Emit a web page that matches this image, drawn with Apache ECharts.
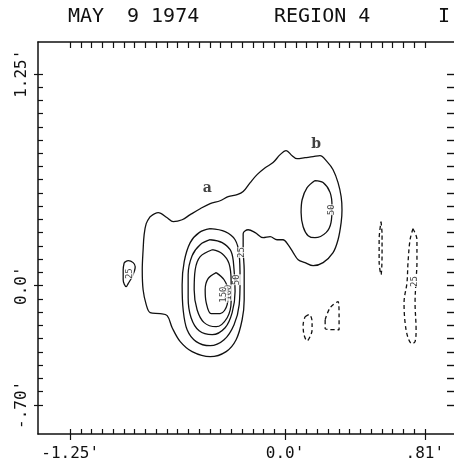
<!DOCTYPE html>
<html><head><meta charset="utf-8">
<script src="https://cdn.jsdelivr.net/npm/echarts@6/dist/echarts.min.js"></script>
<style>html,body{margin:0;padding:0;background:#fff}#c{width:454px;height:467px}</style>
</head><body><div id="c"></div><script>
// ---- axes / ticks (arc-minutes) ----
const xTicks = [-1.25,-1.1875,-1.125,-1.0625,-1,-0.9375,-0.875,-0.8125,-0.75,-0.6875,-0.625,-0.5625,-0.5,-0.4375,-0.375,-0.3125,-0.25,-0.1875,-0.125,-0.0625,0,0.0625,0.125,0.1875,0.25,0.3125,0.375,0.4375,0.5,0.5625,0.625,0.6875,0.75,0.8125];
const xMajor = [-1.25, 0, 0.8125];
const xMajorLabels = ["-1.25'", "0.0'", ".81'"];
const yTicks = [-0.703125,-0.625,-0.546875,-0.46875,-0.390625,-0.3125,-0.234375,-0.15625,-0.078125,0,0.078125,0.15625,0.234375,0.3125,0.390625,0.46875,0.546875,0.625,0.703125,0.78125,0.859375,0.9375,1.015625,1.09375,1.171875,1.25];
const yMajor = [-0.703125, 0, 1.25];
const yMajorLabels = ["-.70'", "0.0'", "1.25'"];

// ---- contours (x, y in arc-minutes) ----
const outer25 = [[-0.785,0.407],[-0.738,0.431],[-0.686,0.401],[-0.651,0.378],[-0.599,0.389],[-0.552,0.419],[-0.494,0.454],[-0.436,0.484],[-0.378,0.501],[-0.331,0.525],[-0.279,0.537],[-0.244,0.555],[-0.203,0.608],[-0.163,0.655],[-0.116,0.696],[-0.070,0.726],[-0.029,0.773],[0.006,0.797],[0.041,0.767],[0.070,0.749],[0.116,0.755],[0.163,0.761],[0.203,0.767],[0.244,0.732],[0.279,0.684],[0.308,0.608],[0.326,0.525],[0.331,0.448],[0.326,0.372],[0.308,0.271],[0.279,0.195],[0.221,0.136],[0.163,0.118],[0.116,0.136],[0.076,0.153],[0.047,0.195],[0.017,0.242],[-0.012,0.271],[-0.047,0.271],[-0.087,0.289],[-0.128,0.283],[-0.174,0.313],[-0.215,0.330],[-0.244,0.307],[-0.244,0.212],[-0.238,0.094],[-0.238,-0.083],[-0.250,-0.201],[-0.285,-0.319],[-0.343,-0.389],[-0.436,-0.419],[-0.541,-0.389],[-0.610,-0.330],[-0.657,-0.248],[-0.686,-0.177],[-0.727,-0.165],[-0.785,-0.159],[-0.808,-0.112],[-0.826,-0.024],[-0.831,0.094],[-0.826,0.212],[-0.820,0.301],[-0.808,0.366],[-0.785,0.407]];
const ringA50 = [[-0.436,0.336],[-0.349,0.319],[-0.291,0.271],[-0.267,0.183],[-0.262,0.035],[-0.267,-0.112],[-0.297,-0.230],[-0.355,-0.319],[-0.436,-0.354],[-0.517,-0.330],[-0.570,-0.260],[-0.593,-0.142],[-0.599,0.006],[-0.587,0.142],[-0.552,0.254],[-0.500,0.313],[-0.436,0.336]];
const ringA100 = [[-0.436,0.271],[-0.366,0.254],[-0.314,0.201],[-0.297,0.094],[-0.291,-0.035],[-0.308,-0.159],[-0.349,-0.248],[-0.424,-0.289],[-0.500,-0.266],[-0.547,-0.189],[-0.564,-0.071],[-0.564,0.065],[-0.541,0.177],[-0.494,0.242],[-0.436,0.271]];
const ringA150 = [[-0.424,0.212],[-0.366,0.189],[-0.326,0.130],[-0.314,0.024],[-0.314,-0.094],[-0.337,-0.189],[-0.401,-0.242],[-0.471,-0.218],[-0.512,-0.142],[-0.529,-0.024],[-0.523,0.094],[-0.494,0.171],[-0.424,0.212]];
const ringA200 = [[-0.401,0.077],[-0.355,0.035],[-0.331,-0.035],[-0.337,-0.112],[-0.378,-0.165],[-0.430,-0.165],[-0.459,-0.100],[-0.465,-0.024],[-0.448,0.041],[-0.401,0.077]];
const ringB50 = [[0.174,0.620],[0.221,0.608],[0.262,0.549],[0.273,0.466],[0.267,0.372],[0.238,0.313],[0.174,0.283],[0.134,0.295],[0.105,0.348],[0.093,0.431],[0.099,0.507],[0.128,0.578],[0.174,0.620]];
const loopW25 = [[-0.936,0.136],[-0.913,0.148],[-0.884,0.136],[-0.872,0.112],[-0.890,0.053],[-0.913,0.012],[-0.924,-0.006],[-0.942,0.035],[-0.942,0.094],[-0.936,0.136]];
const neg1 = [[0.558,0.378],[0.564,0.301],[0.564,0.183],[0.558,0.065],[0.547,0.142],[0.547,0.271],[0.558,0.378]];
const neg2 = [[0.744,0.336],[0.767,0.271],[0.767,0.136],[0.762,0.035],[0.756,-0.100],[0.762,-0.260],[0.756,-0.330],[0.738,-0.342],[0.715,-0.307],[0.698,-0.218],[0.692,-0.100],[0.709,0.018],[0.715,0.136],[0.727,0.271],[0.744,0.336]];
const neg3 = [[0.116,-0.183],[0.140,-0.171],[0.157,-0.212],[0.157,-0.260],[0.145,-0.301],[0.128,-0.325],[0.110,-0.289],[0.105,-0.230],[0.116,-0.183]];
const neg4 = [[0.233,-0.201],[0.262,-0.130],[0.308,-0.094],[0.314,-0.183],[0.314,-0.260],[0.233,-0.254],[0.233,-0.201]];

// ---- contour level labels ----
const levelText = ['25','25','50','100','150','50','25'];
const levelX = [-0.907,-0.250,-0.279,-0.326,-0.360,0.273,0.756];
const levelY = [0.071,0.195,0.035,-0.041,-0.053,0.448,0.024];
// ---- feature labels ----
const featText = ['a','b'];
const featX = [-0.453, 0.180];
const featY = [0.572, 0.832];

const INK = '#111';
const xMin = -1.4375, xMax = 1.0, yMin = -0.875, yMax = 1.4375;
const mono = '"DejaVu Sans Mono", monospace';

function contour(data, dashed) {
  return { type:'line', data, xAxisIndex:0, yAxisIndex:0, showSymbol:false, smooth:0.35,
    lineStyle:{ color:INK, width:1.3, type: dashed ? [4,3] : 'solid' }, silent:true, z:3, animation:false };
}
function lab(vals, texts){ return v => { const i = vals.findIndex(t => Math.abs(t - v) < 1e-6); return i < 0 ? '' : texts[i]; }; }

const chart = echarts.init(document.getElementById('c'), null, {renderer:'canvas'});
const xBase = {type:'value', min:xMin, max:xMax, splitLine:{show:false}};
const yBase = {type:'value', min:yMin, max:yMax, splitLine:{show:false}};
const line = (show) => ({show, onZero:false, lineStyle:{color:INK, width:1.5}});
chart.setOption({
  animation:false,
  backgroundColor:'#fff',
  grid:{left:38, top:42, width:419, height:392, show:false, containLabel:false, outerBoundsMode:'none'},
  xAxis:[
    Object.assign({}, xBase, {position:'bottom', axisLine:line(true),
      axisTick:{show:true, inside:true, length:5, customValues:xTicks, lineStyle:{color:INK, width:1.2}},
      axisLabel:{show:true, customValues:xMajor, formatter:lab(xMajor,xMajorLabels), margin:12, color:INK, fontFamily:mono, fontSize:16}}),
    Object.assign({}, xBase, {position:'bottom', offset:0, axisLine:line(false),
      axisTick:{show:true, inside:false, length:6, customValues:xMajor, lineStyle:{color:INK, width:1.2}},
      axisLabel:{show:false}}),
    Object.assign({}, xBase, {position:'top', offset:0, axisLine:line(true),
      axisTick:{show:true, inside:true, length:6, customValues:xTicks, lineStyle:{color:INK, width:1.2}},
      axisLabel:{show:false}})
  ],
  yAxis:[
    Object.assign({}, yBase, {position:'left', axisLine:line(true),
      axisTick:{show:true, inside:true, length:5, customValues:yTicks, lineStyle:{color:INK, width:1.2}},
      axisLabel:{show:true, customValues:yMajor, formatter:lab(yMajor,yMajorLabels), rotate:90, margin:8, color:INK, fontFamily:mono, fontSize:16}}),
    Object.assign({}, yBase, {position:'left', offset:0, axisLine:line(false),
      axisTick:{show:true, inside:false, length:4, customValues:yMajor, lineStyle:{color:INK, width:1.2}},
      axisLabel:{show:false}}),
    Object.assign({}, yBase, {position:'right', offset:0, axisLine:line(true),
      axisTick:{show:true, inside:true, length:10, customValues:yTicks, lineStyle:{color:INK, width:1.4}},
      axisLabel:{show:false}})
  ],
  graphic:[
    {type:'text', left:68, top:7, style:{text:'MAY', font:'20px '+mono, fill:INK}},
    {type:'text', left:127, top:7, style:{text:'9 1974', font:'20px '+mono, fill:INK}},
    {type:'text', left:274, top:7, style:{text:'REGION 4', font:'20px '+mono, fill:INK}},
    {type:'text', left:438, top:7, style:{text:'I', font:'20px '+mono, fill:INK}}
  ],
  series:[
    contour(outer25,false), contour(ringA50,false), contour(ringA100,false), contour(ringA150,false), contour(ringA200,false),
    contour(ringB50,false), contour(loopW25,false),
    contour(neg1,true), contour(neg2,true), contour(neg3,true), contour(neg4,true),
    { type:'scatter', xAxisIndex:0, yAxisIndex:0, symbolSize:0, z:5, silent:true,
      data: levelText.map((t,i)=>({name:t, value:[levelX[i], levelY[i]]})),
      label:{show:true, position:'inside', formatter:p=>p.name, rotate:90, color:INK, fontFamily:mono, fontSize:9,
        backgroundColor:'#fff', padding:[0,0]} },
    { type:'scatter', xAxisIndex:0, yAxisIndex:0, symbolSize:0, z:5, silent:true,
      data: featText.map((t,i)=>({name:t, value:[featX[i], featY[i]]})),
      label:{show:true, position:'inside', formatter:p=>p.name, color:INK, fontFamily:'"DejaVu Serif", serif', fontWeight:'bold', fontSize:14} }
  ]
});
</script></body></html>
